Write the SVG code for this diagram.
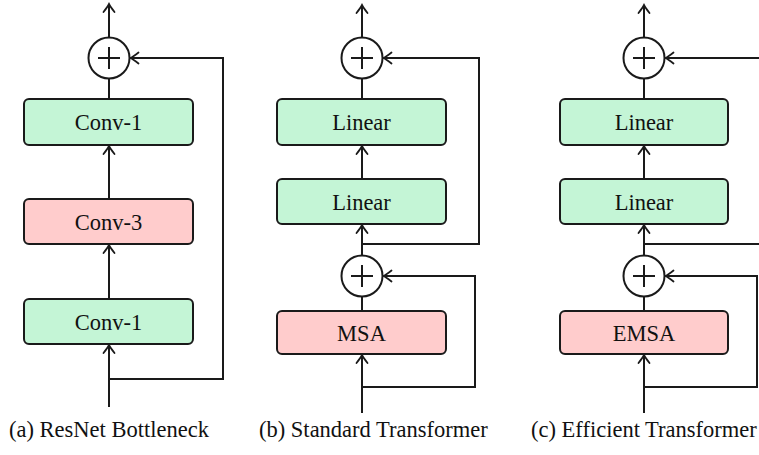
<svg xmlns="http://www.w3.org/2000/svg" width="759" height="455" viewBox="0 0 759 455">
<style>
.box{stroke:#1a1a1a;stroke-width:2}
.g{fill:#c4f5d6}
.r{fill:#ffcccc}
.op{fill:#fff;stroke:#1a1a1a;stroke-width:2}
.pl{stroke:#1a1a1a;stroke-width:2;fill:none}
.ln{stroke:#1a1a1a;stroke-width:2;fill:none}
.ar{marker-end:url(#ah)}
.t{font-family:'Liberation Serif','Times New Roman',Times,serif;font-size:22.5px;fill:#111}
.lb{text-anchor:middle}
</style>
<defs>
<marker id="ah" markerUnits="userSpaceOnUse" markerWidth="16" markerHeight="16" viewBox="-10 -8 12 16" refX="0" refY="0" orient="auto">
<path d="M-8,-5.5 Q-2.5,-1.2 0,0 Q-2.5,1.2 -8,5.5" fill="none" stroke="#1a1a1a" stroke-width="1.8" stroke-linecap="round"/>
</marker>
</defs>
<g id="connectors">
<line class="ln ar" x1="109" y1="37.5" x2="109" y2="4"/>
<line class="ln" x1="109" y1="78.5" x2="109" y2="99"/>
<line class="ln ar" x1="109" y1="199" x2="109" y2="146"/>
<line class="ln ar" x1="109" y1="299" x2="109" y2="245"/>
<line class="ln ar" x1="109" y1="407" x2="109" y2="345"/>
<polyline class="ln ar" points="109,379 223,379 223,58 130.5,58"/>
<line class="ln ar" x1="362" y1="37.5" x2="362" y2="5"/>
<line class="ln" x1="362" y1="78.5" x2="362" y2="99"/>
<line class="ln ar" x1="362" y1="179" x2="362" y2="146"/>
<line class="ln ar" x1="362" y1="255.5" x2="362" y2="225"/>
<line class="ln" x1="362" y1="296.5" x2="362" y2="311"/>
<line class="ln ar" x1="362" y1="413" x2="362" y2="355"/>
<polyline class="ln ar" points="362,244 479,244 479,58 383.5,58"/>
<polyline class="ln ar" points="362,387 475,387 475,276 383.5,276"/>
<line class="ln ar" x1="644" y1="37.5" x2="644" y2="5"/>
<line class="ln" x1="644" y1="78.5" x2="644" y2="99"/>
<line class="ln ar" x1="644" y1="179" x2="644" y2="146"/>
<line class="ln ar" x1="644" y1="255.5" x2="644" y2="225"/>
<line class="ln" x1="644" y1="296.5" x2="644" y2="311"/>
<line class="ln ar" x1="644" y1="413" x2="644" y2="355"/>
<line class="ln ar" x1="762" y1="58" x2="665.5" y2="58"/>
<polyline class="ln" points="644,244 762,244"/>
<polyline class="ln ar" points="644,387 757,387 757,276 665.5,276"/>
</g>
<g id="a-add">
<circle class="op" cx="109" cy="58" r="20.5"/>
<path class="pl" d="M98,58H120M109,47V69"/>
</g>
<g id="a-conv1-top"><rect class="box g" x="24" y="99" width="169" height="46" rx="5"/><text class="t lb" x="108.5" y="130">Conv-1</text></g>
<g id="a-conv3"><rect class="box r" x="24" y="199" width="169" height="45" rx="5"/><text class="t lb" x="108.5" y="230">Conv-3</text></g>
<g id="a-conv1-bot"><rect class="box g" x="24" y="299" width="169" height="45" rx="5"/><text class="t lb" x="108.5" y="330">Conv-1</text></g>
<g id="b-add1">
<circle class="op" cx="362" cy="58" r="20.5"/>
<path class="pl" d="M351,58H373M362,47V69"/>
</g>
<g id="b-linear1"><rect class="box g" x="277" y="99" width="169" height="46" rx="5"/><text class="t lb" x="361.5" y="130">Linear</text></g>
<g id="b-linear2"><rect class="box g" x="277" y="179" width="169" height="45" rx="5"/><text class="t lb" x="361.5" y="210">Linear</text></g>
<g id="b-add2">
<circle class="op" cx="362" cy="276" r="20.5"/>
<path class="pl" d="M351,276H373M362,265V287"/>
</g>
<g id="b-msa"><rect class="box r" x="277" y="311" width="169" height="43" rx="5"/><text class="t lb" x="361.5" y="341">MSA</text></g>
<g id="c-add1">
<circle class="op" cx="644" cy="58" r="20.5"/>
<path class="pl" d="M633,58H655M644,47V69"/>
</g>
<g id="c-linear1"><rect class="box g" x="560" y="99" width="168" height="46" rx="5"/><text class="t lb" x="644" y="130">Linear</text></g>
<g id="c-linear2"><rect class="box g" x="560" y="179" width="168" height="45" rx="5"/><text class="t lb" x="644" y="210">Linear</text></g>
<g id="c-add2">
<circle class="op" cx="644" cy="276" r="20.5"/>
<path class="pl" d="M633,276H655M644,265V287"/>
</g>
<g id="c-emsa"><rect class="box r" x="560" y="311" width="168" height="43" rx="5"/><text class="t lb" x="644" y="341">EMSA</text></g>
<g id="captions">
<text class="t" x="9" y="437">(a) ResNet Bottleneck</text>
<text class="t" x="259" y="437">(b) Standard Transformer</text>
<text class="t" x="531" y="437">(c) Efficient Transformer</text>
</g>
</svg>
